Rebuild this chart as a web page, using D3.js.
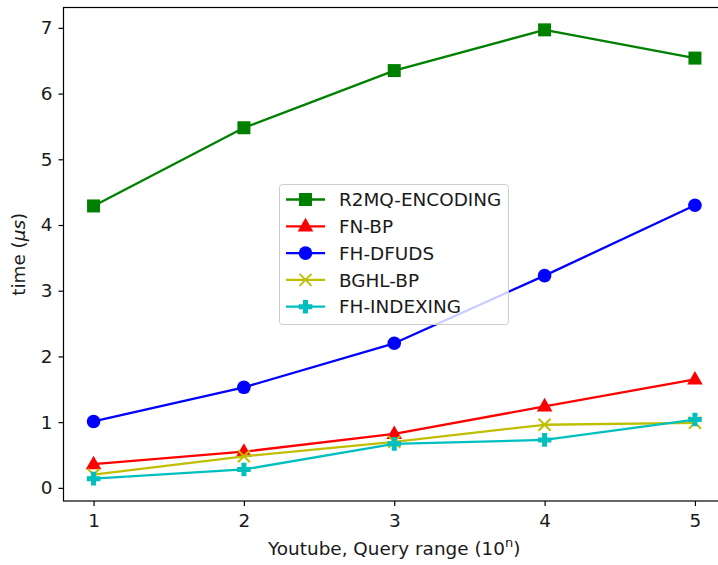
<!DOCTYPE html>
<html>
<head>
<meta charset="utf-8">
<script src="https://cdn.jsdelivr.net/npm/d3@7"></script>
<style>
  html, body { margin: 0; padding: 0; background: #fff; }
  svg { display: block; font-family: "DejaVu Sans", sans-serif; }
</style>
</head>
<body>
<svg id="chart" width="718" height="565"></svg>
<script>
// Query range exponents (10^n)
const ranges = [1, 2, 3, 4, 5];
const xTicks = [1, 2, 3, 4, 5];
const yTicks = [0, 1, 2, 3, 4, 5, 6, 7];

// Query times in microseconds
const r2mq = [4.29, 5.48, 6.35, 6.97, 6.54];
const fnbp = [0.36, 0.55, 0.82, 1.24, 1.65];
const fhdfuds = [1.01, 1.53, 2.20, 3.23, 4.30];
const bghlbp = [0.20, 0.48, 0.70, 0.96, 0.99];
const fhindexing = [0.14, 0.28, 0.67, 0.73, 1.04];

const seriesNames = ["R2MQ-ENCODING", "FN-BP", "FH-DFUDS", "BGHL-BP", "FH-INDEXING"];
const seriesValues = [r2mq, fnbp, fhdfuds, bghlbp, fhindexing];
const seriesColors = ["#008000", "#ff0000", "#0000ff", "#bfbf00", "#00bfbf"];
const seriesMarkers = ["square", "triangle", "circle", "x", "plus"];

const FS = 18.4;
const TXT = "#1a1a1a";

const svg = d3.select("#chart");
const plot = { left: 63.5, right: 725, top: 7.5, bottom: 501 };

const x = d3.scaleLinear().domain([0.8, 5.2]).range([plot.left, plot.right]);
const y = d3.scaleLinear().domain([-0.2, 7.31]).range([plot.bottom, plot.top]);

// Axes
const xAxis = svg.append("g")
  .attr("transform", `translate(0,${plot.bottom})`)
  .call(d3.axisBottom(x).tickValues(xTicks).tickFormat(d3.format("d")).tickSize(5).tickPadding(5).tickSizeOuter(0));
const yAxis = svg.append("g")
  .attr("transform", `translate(${plot.left},0)`)
  .call(d3.axisLeft(y).tickValues(yTicks).tickFormat(d3.format("d")).tickSize(5).tickPadding(6).tickSizeOuter(0));

[xAxis, yAxis].forEach(g => {
  g.select(".domain").remove();
  g.selectAll(".tick line").attr("stroke", "#000").attr("stroke-width", 1.2);
  g.selectAll(".tick text").attr("fill", TXT).attr("font-size", FS)
    .attr("font-family", "DejaVu Sans, sans-serif");
});
xAxis.selectAll(".tick text").attr("dy", "0.85em");

// Frame
svg.append("rect")
  .attr("x", plot.left).attr("y", plot.top)
  .attr("width", plot.right - plot.left).attr("height", plot.bottom - plot.top)
  .attr("fill", "none").attr("stroke", "#000").attr("stroke-width", 1.2);

// Marker drawing
function drawMarker(g, type, color, cx, cy) {
  if (type === "square") {
    g.append("rect").attr("x", cx - 6.5).attr("y", cy - 6.5).attr("width", 13).attr("height", 13)
      .attr("fill", color);
  } else if (type === "triangle") {
    const r = 8.5;
    g.append("path")
      .attr("d", `M${cx},${cy - r} L${cx + r * 0.92},${cy + r * 0.6} L${cx - r * 0.92},${cy + r * 0.6} Z`)
      .attr("fill", color);
  } else if (type === "circle") {
    g.append("circle").attr("cx", cx).attr("cy", cy).attr("r", 6.8).attr("fill", color);
  } else if (type === "x") {
    const s = 6;
    g.append("path")
      .attr("d", `M${cx - s},${cy - s} L${cx + s},${cy + s} M${cx - s},${cy + s} L${cx + s},${cy - s}`)
      .attr("stroke", color).attr("stroke-width", 2).attr("fill", "none");
  } else if (type === "plus") {
    const a = 6.8, b = 2.5;
    g.append("path")
      .attr("d", `M${cx - b},${cy - a} H${cx + b} V${cy - b} H${cx + a} V${cy + b} H${cx + b} V${cy + a} H${cx - b} V${cy + b} H${cx - a} V${cy - b} H${cx - b} Z`)
      .attr("fill", color);
  }
}

const line = d3.line().x(d => x(d[0])).y(d => y(d[1]));

seriesValues.forEach((vals, i) => {
  const g = svg.append("g");
  const pts = ranges.map((r, j) => [r, vals[j]]);
  g.append("path").attr("d", line(pts))
    .attr("fill", "none").attr("stroke", seriesColors[i]).attr("stroke-width", 2.3)
    .attr("stroke-linejoin", "round");
  pts.forEach(p => drawMarker(g, seriesMarkers[i], seriesColors[i], x(p[0]), y(p[1])));
});

// Legend
const legend = svg.append("g");
legend.append("rect")
  .attr("x", 279.5).attr("y", 184.5).attr("width", 229).attr("height", 140).attr("rx", 3)
  .attr("fill", "#fff").attr("fill-opacity", 0.8)
  .attr("stroke", "#ccc").attr("stroke-width", 1);
seriesNames.forEach((name, i) => {
  const ly = 199.5 + i * 26.8;
  const g = legend.append("g");
  g.append("line").attr("x1", 286).attr("x2", 325).attr("y1", ly).attr("y2", ly)
    .attr("stroke", seriesColors[i]).attr("stroke-width", 2.3);
  drawMarker(g, seriesMarkers[i], seriesColors[i], 305.5, ly);
  g.append("text").attr("x", 339).attr("y", ly).attr("dy", "0.36em")
    .attr("font-size", FS).attr("fill", TXT).text(name);
});

// Axis titles
const xt = svg.append("text").attr("x", (plot.left + plot.right) / 2).attr("y", 555)
  .attr("text-anchor", "middle").attr("font-size", FS).attr("fill", TXT);
xt.append("tspan").text("Youtube, Query range (10");
xt.append("tspan").attr("font-size", 13).attr("dy", -8).text("n");
xt.append("tspan").attr("dy", 8).text(")");

const yt = svg.append("text")
  .attr("transform", `translate(25,${(plot.top + plot.bottom) / 2}) rotate(-90)`)
  .attr("text-anchor", "middle").attr("font-size", FS).attr("fill", TXT);
yt.append("tspan").text("time (");
yt.append("tspan").attr("font-style", "italic").text("μs");
yt.append("tspan").text(")");
</script>
</body>
</html>
